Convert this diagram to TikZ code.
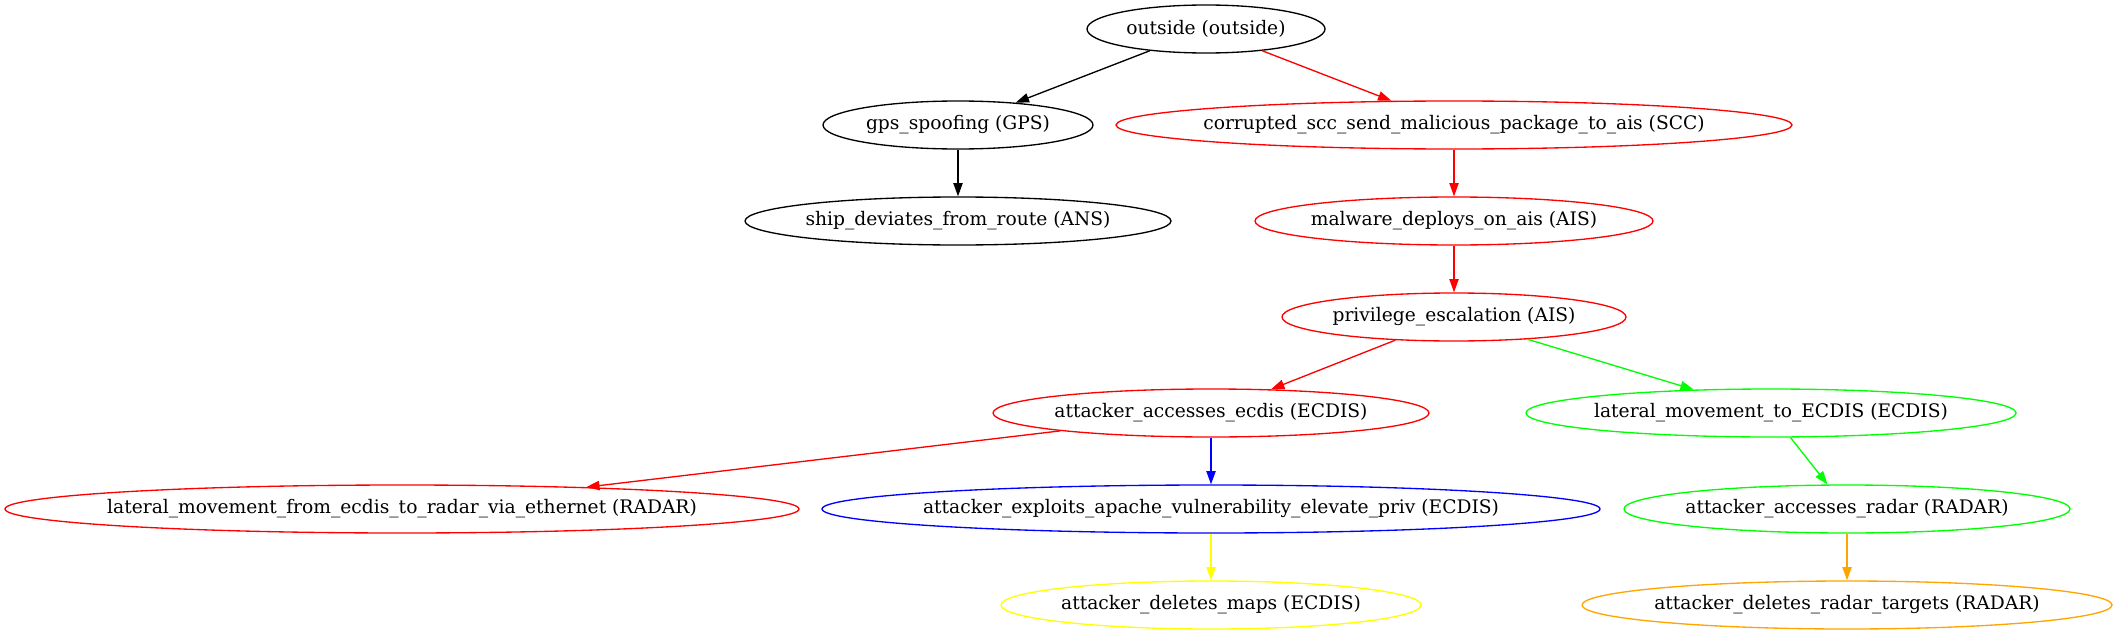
\documentclass[tikz,border=0pt]{standalone}
\usepackage{fontspec}
\setmainfont{DejaVu Serif}
\usetikzlibrary{shapes.geometric,arrows.meta}
\definecolor{gvred}{HTML}{FF0000}
\definecolor{gvgreen}{HTML}{00FF00}
\definecolor{gvblue}{HTML}{0000FF}
\definecolor{gvyellow}{HTML}{FFFF00}
\definecolor{gvorange}{HTML}{FFA500}
\newcommand\gvtext[1]{\makebox[0pt]{#1}}
\tikzset{
  gvnode/.style={ellipse, draw=#1, line width=1pt, inner sep=0pt, minimum height=36pt,
    font=\fontsize{14pt}{16pt}\selectfont, text=black},
  ew/.style={minimum width=#1*0.75pt},
  gvedge/.style={draw=#1, line width=1pt, -{Triangle[length=10pt,width=7pt]}, color=#1},
}
\begin{document}
\begin{tikzpicture}[x=0.75pt,y=-0.75pt]
\useasboundingbox (0,0) rectangle (2117,635);
\node[gvnode=black, ew=238] (outside) at (1206,29) {\gvtext{outside (outside)}};
\node[gvnode=black, ew=270] (gps) at (958,125) {\gvtext{gps\_spoofing (GPS)}};
\node[gvnode=gvred, ew=676] (scc) at (1454,125) {\gvtext{corrupted\_scc\_send\_malicious\_package\_to\_ais (SCC)}};
\node[gvnode=black, ew=426] (ship) at (958,221) {\gvtext{ship\_deviates\_from\_route (ANS)}};
\node[gvnode=gvred, ew=398] (malware) at (1454,221) {\gvtext{malware\_deploys\_on\_ais (AIS)}};
\node[gvnode=gvred, ew=344] (priv) at (1454,317) {\gvtext{privilege\_escalation (AIS)}};
\node[gvnode=gvred, ew=436] (ecdis) at (1211,413) {\gvtext{attacker\_accesses\_ecdis (ECDIS)}};
\node[gvnode=gvgreen, ew=490] (latecdis) at (1771,413) {\gvtext{lateral\_movement\_to\_ECDIS (ECDIS)}};
\node[gvnode=gvred, ew=794] (latfrom) at (402,509) {\gvtext{lateral\_movement\_from\_ecdis\_to\_radar\_via\_ethernet (RADAR)}};
\node[gvnode=gvblue, ew=778] (apache) at (1211,509) {\gvtext{attacker\_exploits\_apache\_vulnerability\_elevate\_priv (ECDIS)}};
\node[gvnode=gvgreen, ew=446] (radar) at (1847,509) {\gvtext{attacker\_accesses\_radar (RADAR)}};
\node[gvnode=gvyellow, ew=420] (maps) at (1211,605) {\gvtext{attacker\_deletes\_maps (ECDIS)}};
\node[gvnode=gvorange, ew=530] (targets) at (1847,605) {\gvtext{attacker\_deletes\_radar\_targets (RADAR)}};
\draw[gvedge=black] (outside) -- (gps);
\draw[gvedge=gvred] (outside) -- (scc);
\draw[gvedge=black] (gps) -- (ship);
\draw[gvedge=gvred] (scc) -- (malware);
\draw[gvedge=gvred] (malware) -- (priv);
\draw[gvedge=gvred] (priv) -- (ecdis);
\draw[gvedge=gvgreen] (priv) -- (latecdis);
\draw[gvedge=gvred] (ecdis) -- (latfrom);
\draw[gvedge=gvblue] (ecdis) -- (apache);
\draw[gvedge=gvgreen] (latecdis) -- (radar);
\draw[gvedge=gvyellow] (apache) -- (maps);
\draw[gvedge=gvorange] (radar) -- (targets);
\end{tikzpicture}
\end{document}
